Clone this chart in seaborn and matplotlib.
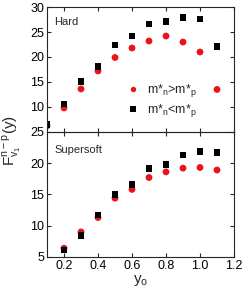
import numpy as np
import pandas as pd
import matplotlib
matplotlib.use("Agg")
import matplotlib.pyplot as plt
import seaborn as sns

sns.set_style("ticks")
plt.rcParams['font.family'] = ['Liberation Sans', 'DejaVu Sans']

x_hard = [0.1, 0.2, 0.3, 0.4, 0.5, 0.6, 0.7, 0.8, 0.9, 1.0, 1.1]
hard_gt = [6.2, 9.8, 13.6, 17.2, 19.9, 21.8, 23.2, 24.2, 23.0, 21.0, 13.5]
hard_lt = [6.5, 10.6, 15.1, 18.1, 22.4, 24.2, 26.6, 27.1, 27.9, 27.6, 22.1]

x_soft = [0.2, 0.3, 0.4, 0.5, 0.6, 0.7, 0.8, 0.9, 1.0, 1.1]
soft_gt = [6.4, 9.0, 11.3, 14.4, 15.8, 17.7, 18.6, 19.2, 19.3, 18.9]
soft_lt = [6.1, 8.4, 11.7, 15.0, 16.6, 19.1, 19.8, 21.3, 21.9, 21.7]

lab_gt = r"m*$_\mathregular{n}$>m*$_\mathregular{p}$"
lab_lt = r"m*$_\mathregular{n}$<m*$_\mathregular{p}$"

def frame(x, a, b):
    return pd.DataFrame({
        "y0": list(x) + list(x),
        "F": list(a) + list(b),
        "case": [lab_gt] * len(x) + [lab_lt] * len(x),
    })

df_h = frame(x_hard, hard_gt, hard_lt)
df_s = frame(x_soft, soft_gt, soft_lt)

fig = plt.figure(figsize=(2.5, 2.95), dpi=100)
ax1 = fig.add_axes([0.188, 0.553, 0.748, 0.423])
ax2 = fig.add_axes([0.188, 0.129, 0.748, 0.424])
ax2.set_zorder(3)
ax2.patch.set_visible(False)

pal = {lab_gt: "#e8141a", lab_lt: "black"}
mk = {lab_gt: "o", lab_lt: "s"}

for ax, df in [(ax1, df_h), (ax2, df_s)]:
    sns.scatterplot(data=df, x="y0", y="F", hue="case", style="case",
                    palette=pal, markers=mk, s=24, linewidth=0, ax=ax,
                    legend=(ax is ax1))
    ax.set_xlim(0.1, 1.2)
    ax.set_xticks([0.2, 0.4, 0.6, 0.8, 1.0, 1.2])
    ax.tick_params(direction="in", top=True, right=True, length=3,
                   labelsize=9, width=0.8, pad=2, labelcolor="black")
    for s in ax.spines.values():
        s.set_linewidth(0.8)
    ax.set_xlabel("")
    ax.set_ylabel("")

ax1.set_ylim(5, 30)
ax1.set_yticks([10, 15, 20, 25, 30])
ax1.tick_params(labelbottom=False)
ax2.set_ylim(5, 25)
ax2.set_yticks([5, 10, 15, 20, 25])
ax2.set_xticklabels(["0.2", "0.4", "0.6", "0.8", "1.0", "1.2"])

ax1.text(0.04, 0.86, "Hard", transform=ax1.transAxes, fontsize=8)
ax2.text(0.04, 0.83, "Supersoft", transform=ax2.transAxes, fontsize=8)

leg = ax1.legend(loc="center left", bbox_to_anchor=(0.36, 0.25), frameon=False,
                 fontsize=9, handletextpad=0.1, labelspacing=0.25,
                 markerscale=0.8, borderpad=0)

ax2.set_xlabel(r"y$_\mathregular{o}$", fontsize=11, labelpad=1)
fig.text(0.045, 0.525, r"F$^\mathregular{n-p}_\mathregular{v_1}$(y)", rotation=90,
         va="center", ha="center", fontsize=11)

fig.savefig("out.png", dpi=100)
